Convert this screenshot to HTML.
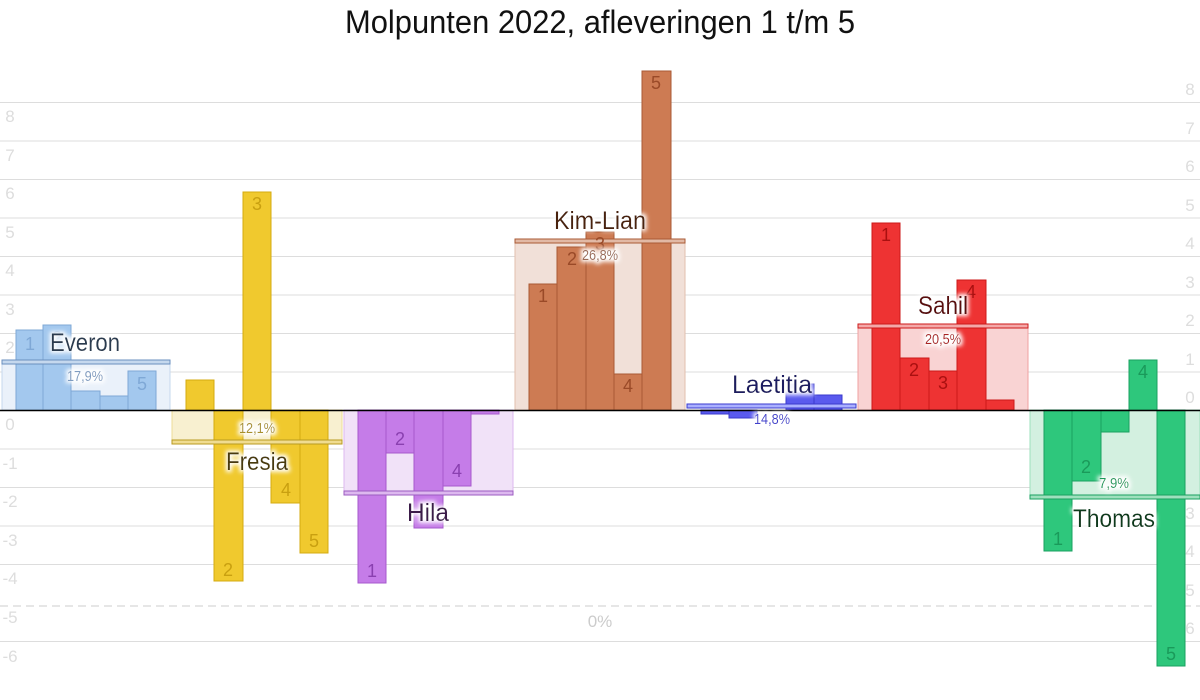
<!DOCTYPE html><html><head><meta charset="utf-8"><style>body{margin:0;background:#fff}svg{display:block}text{font-family:"Liberation Sans Narrow","Liberation Sans",sans-serif}</style></head><body>
<svg width="1200" height="700" viewBox="0 0 1200 700" xmlns="http://www.w3.org/2000/svg">
<defs><filter id="g" x="-20%" y="-40%" width="140%" height="180%"><feMorphology operator="dilate" radius="2" in="SourceAlpha" result="d"/><feGaussianBlur in="d" stdDeviation="2" result="b"/><feFlood flood-color="#fff"/><feComposite in2="b" operator="in"/><feMerge><feMergeNode/><feMergeNode in="SourceGraphic"/></feMerge></filter></defs>
<text x="600" y="33" font-size="32" text-anchor="middle" fill="#111" textLength="510" lengthAdjust="spacingAndGlyphs">Molpunten 2022, afleveringen 1 t/m 5</text>
<g stroke="#ddd" stroke-width="1">
<line x1="0" x2="1200" y1="102.5" y2="102.5"/><line x1="0" x2="1200" y1="141" y2="141"/><line x1="0" x2="1200" y1="179.5" y2="179.5"/><line x1="0" x2="1200" y1="218" y2="218"/><line x1="0" x2="1200" y1="256.5" y2="256.5"/><line x1="0" x2="1200" y1="295" y2="295"/><line x1="0" x2="1200" y1="333.5" y2="333.5"/><line x1="0" x2="1200" y1="372" y2="372"/><line x1="0" x2="1200" y1="449" y2="449"/><line x1="0" x2="1200" y1="487.5" y2="487.5"/><line x1="0" x2="1200" y1="526" y2="526"/><line x1="0" x2="1200" y1="564.5" y2="564.5"/><line x1="0" x2="1200" y1="641.5" y2="641.5"/>
<line x1="0" x2="1200" y1="606" y2="606" stroke-dasharray="8,5" stroke="#ccc"/>
</g>
<g font-size="17" fill="#ddd" text-anchor="middle">
<text x="10" y="122">8</text><text x="10" y="161">7</text><text x="10" y="199">6</text><text x="10" y="238">5</text><text x="10" y="276">4</text><text x="10" y="315">3</text><text x="10" y="353">2</text><text x="10" y="392">1</text><text x="10" y="430">0</text><text x="10" y="469">-1</text><text x="10" y="507">-2</text><text x="10" y="546">-3</text><text x="10" y="584">-4</text><text x="10" y="623">-5</text><text x="10" y="662">-6</text>
<text x="1190" y="95">8</text><text x="1190" y="134">7</text><text x="1190" y="172">6</text><text x="1190" y="211">5</text><text x="1190" y="249">4</text><text x="1190" y="288">3</text><text x="1190" y="326">2</text><text x="1190" y="365">1</text><text x="1190" y="403">0</text><text x="1190" y="442">1</text><text x="1190" y="480">2</text><text x="1190" y="519">3</text><text x="1190" y="557">4</text><text x="1190" y="596">5</text><text x="1190" y="634">6</text>
<text x="600" y="627" fill="#ccc">0%</text>
</g>
<rect x="2" y="361" width="168" height="49" fill="#eaf1fa" stroke="#c5d8ee"/>
<g fill="#a3c8ee" stroke="#7fa8d6"><rect x="16" y="330" width="27" height="80"/><rect x="43" y="325" width="28" height="85"/><rect x="71" y="391" width="29" height="19"/><rect x="100" y="396" width="28" height="14"/><rect x="128" y="371" width="28" height="39"/></g>
<rect x="2" y="360" width="168" height="4" fill="#c5d8ee" stroke="#6a8fbf"/>
<rect x="172" y="410" width="170" height="32" fill="#f8f0d0" stroke="#eedd99"/>
<g fill="#f0c92e" stroke="#d4ab10"><rect x="186" y="380" width="28" height="30"/><rect x="214" y="410" width="29" height="171"/><rect x="243" y="192" width="28" height="218"/><rect x="271" y="410" width="29" height="93"/><rect x="300" y="410" width="28" height="143"/></g>
<rect x="172" y="440" width="170" height="4" fill="#f0dc90" stroke="#b89a20"/>
<rect x="344" y="410" width="169" height="83" fill="#f1e2f8" stroke="#ddb8ef"/>
<g fill="#c57ce8" stroke="#a659cc"><rect x="358" y="410" width="28" height="173"/><rect x="386" y="410" width="28" height="43"/><rect x="414" y="410" width="29" height="118"/><rect x="443" y="410" width="28" height="76"/><rect x="471" y="410" width="28" height="4"/></g>
<rect x="344" y="491" width="169" height="4" fill="#ddb8ef" stroke="#9c5cc0"/>
<rect x="515" y="241" width="170" height="169" fill="#f1e0d8" stroke="#e2bfae"/>
<g fill="#cd7b53" stroke="#a95a35"><rect x="529" y="284" width="28" height="126"/><rect x="557" y="247" width="29" height="163"/><rect x="586" y="232" width="28" height="178"/><rect x="614" y="374" width="28" height="36"/><rect x="642" y="71" width="29" height="339"/></g>
<rect x="515" y="239" width="170" height="4" fill="#e2b9a5" stroke="#a95a35"/>
<g fill="#5a5aee" stroke="#3a3acc"><rect x="701" y="410" width="28" height="4"/><rect x="729" y="410" width="28" height="8"/><rect x="786" y="384" width="28" height="26"/><rect x="814" y="395" width="28" height="15"/></g>
<rect x="687" y="404" width="169" height="4" fill="#aab0ff" stroke="#3a3acc"/>
<rect x="858" y="326" width="170" height="84" fill="#f9d3d3" stroke="#f0a0a0"/>
<g fill="#ee3333" stroke="#cc1a1a"><rect x="872" y="223" width="28" height="187"/><rect x="900" y="358" width="29" height="52"/><rect x="929" y="371" width="28" height="39"/><rect x="957" y="280" width="29" height="130"/><rect x="986" y="400" width="28" height="10"/></g>
<rect x="858" y="324" width="170" height="4" fill="#f4a8a8" stroke="#cc1a1a"/>
<rect x="1030" y="410" width="170" height="87" fill="#d3f0e0" stroke="#9ee0bd"/>
<g fill="#2ec77c" stroke="#1aa060"><rect x="1044" y="410" width="28" height="141"/><rect x="1072" y="410" width="29" height="71"/><rect x="1101" y="410" width="28" height="22"/><rect x="1129" y="360" width="28" height="50"/><rect x="1157" y="410" width="28" height="256"/></g>
<rect x="1030" y="495" width="170" height="4" fill="#9ee0bd" stroke="#1aa060"/>
<line x1="0" x2="1200" y1="410.5" y2="410.5" stroke="#000" stroke-width="1.5"/>
<g font-size="18" text-anchor="middle">
<g fill="#7fa8d6"><text x="30" y="350">1</text><text x="57" y="344">2</text><text x="142" y="390">5</text></g>
<g fill="#c9a010"><text x="257" y="210">3</text><text x="228" y="576">2</text><text x="286" y="496">4</text><text x="314" y="547">5</text></g>
<g fill="#8a40b0"><text x="372" y="577">1</text><text x="400" y="445">2</text><text x="457" y="477">4</text></g>
<g fill="#9a4a28"><text x="543" y="302">1</text><text x="572" y="265">2</text><text x="600" y="250">3</text><text x="628" y="392">4</text><text x="656" y="89">5</text></g>
<g fill="#aa1010"><text x="886" y="241">1</text><text x="914" y="376">2</text><text x="943" y="389">3</text><text x="971" y="298">4</text></g>
<g fill="#1a9a5a"><text x="1058" y="545">1</text><text x="1086" y="473">2</text><text x="1143" y="378">4</text><text x="1171" y="660">5</text></g>
</g>
<g font-size="15" text-anchor="middle" filter="url(#g)" lengthAdjust="spacingAndGlyphs">
<text x="85" y="381" fill="#7f9cc0" textLength="36" lengthAdjust="spacingAndGlyphs">17,9%</text><text x="257" y="433" fill="#a8902a" textLength="36" lengthAdjust="spacingAndGlyphs">12,1%</text><text x="600" y="260" fill="#9a6a55" textLength="36" lengthAdjust="spacingAndGlyphs">26,8%</text><text x="772" y="424" fill="#4040cc" textLength="36" lengthAdjust="spacingAndGlyphs">14,8%</text><text x="943" y="344" fill="#aa2020" textLength="36" lengthAdjust="spacingAndGlyphs">20,5%</text><text x="1114" y="488" fill="#1a9a5a" textLength="30" lengthAdjust="spacingAndGlyphs">7,9%</text>
</g>
<g font-size="25" text-anchor="middle" filter="url(#g)">
<text x="85" y="351" fill="#2a3a50" textLength="70" lengthAdjust="spacingAndGlyphs">Everon</text><text x="257" y="470" fill="#4a3a10" textLength="62" lengthAdjust="spacingAndGlyphs">Fresia</text><text x="428" y="521" fill="#3a1a4a" textLength="42" lengthAdjust="spacingAndGlyphs">Hila</text><text x="600" y="229" fill="#4a2010" textLength="92" lengthAdjust="spacingAndGlyphs">Kim-Lian</text><text x="772" y="393" fill="#1a1a60" textLength="80" lengthAdjust="spacingAndGlyphs">Laetitia</text><text x="943" y="314" fill="#5a0a0a" textLength="50" lengthAdjust="spacingAndGlyphs">Sahil</text><text x="1114" y="527" fill="#0a3a1a" textLength="82" lengthAdjust="spacingAndGlyphs">Thomas</text>
</g>
</svg>
</body></html>
